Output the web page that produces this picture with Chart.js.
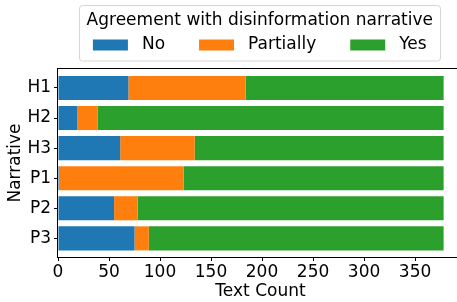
<!DOCTYPE html>
<html><head><meta charset="utf-8">
<script src="https://cdn.jsdelivr.net/npm/chart.js@4"></script>
<style>html,body{margin:0;padding:0;overflow:hidden;background:#fff}#wrap{width:470px;height:302px;position:relative}</style>
</head><body><div id="wrap"><canvas id="c"></canvas></div>
<script>
const categories = ['H1','H2','H3','P1','P2','P3'];
const noValues = [69,19,61,1,55,75];
const partiallyValues = [115,20,73,122,23,14];
const yesValues = [194,339,244,255,300,289];
const seriesNames = ['No','Partially','Yes'];
const seriesColors = ['#1f77b4','#ff7f0e','#2ca02c'];
const xTicks = [0,50,100,150,200,250,300,350];
const legendTitle = 'Agreement with disinformation narrative';

const FONT = '"DejaVu Sans", sans-serif';
const FS = 17;
const toPts = arr => arr.map((v,i)=>({x:v,y:i}));

const frame = {
  id:'frame',
  afterDatasetsDraw(chart){
    const a = chart.chartArea, ctx = chart.ctx;
    ctx.save(); ctx.strokeStyle='#000'; ctx.lineWidth=1;
    ctx.strokeRect(Math.round(a.left)-0.5, Math.round(a.top)-0.5, Math.round(a.right-a.left)+1, Math.round(a.bottom-a.top)+1);
    ctx.restore();
  }
};

const legendPlug = {
  id:'mplLegend',
  afterDraw(chart){
    const ctx = chart.ctx;
    ctx.save();
    ctx.font = FS + 'px ' + FONT;
    const cx = 259.8;
    const handle = 35, tpad = 14, colsp = 34;
    const ws = seriesNames.map(n=>ctx.measureText(n).width);
    let total = 3*(handle+tpad) + ws.reduce((s,w)=>s+w,0) + 2*colsp;
    const titleW = ctx.measureText(legendTitle).width;
    const inner = Math.max(total, titleW);
    const bx0 = cx - inner/2 - 7.5, bx1 = cx + inner/2 + 7.5;
    const by0 = 5.5, by1 = 61;
    ctx.beginPath();
    if (ctx.roundRect) ctx.roundRect(Math.round(bx0)+0.5, by0, Math.round(bx1-bx0), by1-by0, 3);
    else ctx.rect(Math.round(bx0)+0.5, by0, Math.round(bx1-bx0), by1-by0);
    ctx.fillStyle='rgba(255,255,255,0.8)'; ctx.fill();
    ctx.strokeStyle='#d6d6d6'; ctx.lineWidth=1; ctx.stroke();
    ctx.fillStyle='#000'; ctx.textAlign='center'; ctx.textBaseline='middle';
    ctx.fillText(legendTitle, cx, 20.5);
    let x = cx - total/2;
    ctx.textAlign='left';
    seriesNames.forEach((n,i)=>{
      ctx.fillStyle = seriesColors[i];
      ctx.fillRect(x, 39.5, handle, 11);
      ctx.fillStyle='#000';
      ctx.fillText(n, x+handle+tpad, 45);
      x += handle + tpad + ws[i] + colsp;
    });
    ctx.restore();
  }
};

new Chart(document.getElementById('c'), {
  type:'bar',
  data:{
    datasets:[
      {label:seriesNames[0], data:toPts(noValues), backgroundColor:seriesColors[0]},
      {label:seriesNames[1], data:toPts(partiallyValues), backgroundColor:seriesColors[1]},
      {label:seriesNames[2], data:toPts(yesValues), backgroundColor:seriesColors[2]}
    ]
  },
  options:{
    indexAxis:'y',
    responsive:true, maintainAspectRatio:false, animation:false,
    devicePixelRatio:1,
    datasets:{bar:{barPercentage:0.8, categoryPercentage:1.0, borderWidth:0}},
    layout:{padding:{top:69, left:0, right:7, bottom:0}},
    plugins:{legend:{display:false}, tooltip:{enabled:false}},
    scales:{
      x:{
        type:'linear', stacked:true, min:0, max:397, offset:false,
        ticks:{color:'#000', font:{family:FONT, size:FS}, padding:1, maxRotation:0},
        afterBuildTicks(s){ s.ticks = xTicks.map(v=>({value:v})); },
        afterFit(s){ s.height = 45; },
        grid:{drawOnChartArea:false, drawTicks:true, tickLength:4, tickColor:'#000', offset:false},
        border:{display:false},
        title:{display:true, text:'Text Count', color:'#000', font:{family:FONT, size:FS}, padding:{top:0,bottom:0}}
      },
      y:{
        type:'linear', stacked:true, reverse:true, min:-0.63, max:5.62, offset:false,
        ticks:{color:'#000', font:{family:FONT, size:FS}, padding:3, callback:v=>categories[v]},
        afterBuildTicks(s){ s.ticks = categories.map((c,i)=>({value:i})); },
        afterFit(s){ s.width = 58; },
        grid:{drawOnChartArea:false, drawTicks:true, tickLength:4, tickColor:'#000', offset:false},
        border:{display:false},
        title:{display:true, text:'Narrative', color:'#000', font:{family:FONT, size:FS}, padding:{top:5,bottom:0}}
      }
    }
  },
  plugins:[frame, legendPlug]
});
</script>
</body></html>
